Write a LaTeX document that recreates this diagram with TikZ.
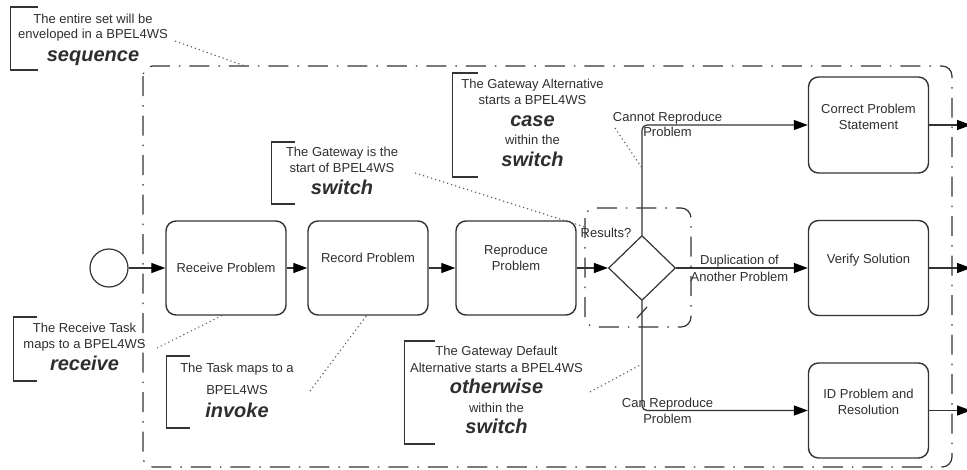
\documentclass[tikz,border=0pt]{standalone}
\usepackage{fontspec}
\setmainfont{Liberation Sans}
\usetikzlibrary{arrows.meta,shapes.geometric}
\definecolor{ink}{HTML}{333333}
\definecolor{txt}{HTML}{2E2E2E}
\definecolor{dotc}{HTML}{5A5A5A}
\begin{document}
\begin{tikzpicture}[x=1pt,y=-1pt,
  tl/.style={anchor=base, inner sep=0pt, text=txt, font=\fontsize{13}{16}\selectfont},
  kw/.style={anchor=base, inner sep=0pt, text=txt, font=\fontsize{20}{22}\selectfont\bfseries\itshape},
  task/.style={draw=ink, line width=1.4pt, rounded corners=10pt, minimum width=120pt, minimum height=94pt, inner sep=0pt},
  flow/.style={draw=ink, line width=1.3pt, -{Triangle[length=14pt,width=10pt,color=black]}},
  grp/.style={draw=ink, line width=1.2pt, rounded corners=10pt, dash pattern=on 20pt off 9pt on 1.5pt off 9pt},
  lead/.style={draw=dotc, line width=1.1pt, dash pattern=on 1.2pt off 3pt},
  brk/.style={draw=ink, line width=1.3pt}]
\useasboundingbox (0,0) rectangle (967,469);

% groups
\draw[grp] (143,66) rectangle (952,467);
\draw[grp] (585,208) rectangle (691,327);

% start event
\node[circle, draw=ink, line width=1.2pt, minimum size=38pt, inner sep=0pt] (start) at (109,268) {};

% tasks
\node[task] (rcv) at (226,268) {};
\node[task] (rec) at (368,268) {};
\node[task] (rep) at (516,268) {};
\node[task, minimum height=96pt] (cps) at (868.5,125) {};
\node[task, minimum height=95pt] (ver) at (868.5,268) {};
\node[task, minimum height=95pt] (idr) at (868.5,410.5) {};

\node[tl] (rcvt) at (226,272) {Receive Problem};
\node[tl] (rect) at (368,262) {Record Problem};
\node[tl] (rept1) at (516,254) {Reproduce};
\node[tl] (rept2) at (516,270) {Problem};
\node[tl] (cpst1) at (868.5,113) {Correct Problem};
\node[tl] (cpst2) at (868.5,129) {Statement};
\node[tl] (vert) at (868.5,263) {Verify Solution};
\node[tl] (idrt1) at (868.5,398) {ID Problem and};
\node[tl] (idrt2) at (868.5,414) {Resolution};

% gateway
\node[diamond, draw=ink, line width=1.2pt, minimum width=67pt, minimum height=65pt, inner sep=0pt] (gw) at (642,268) {};
\node[tl] (gwt) at (606,237) {Results?};

% flows
\draw[flow] (start) -- (rcv);
\draw[flow] (rcv) -- (rec);
\draw[flow] (rec) -- (rep);
\draw[flow] (rep) -- (gw);
\draw[flow, rounded corners=5pt] (gw.north) |- (cps);
\draw[flow] (gw) -- (ver);
\draw[flow, rounded corners=5pt] (gw.south) |- (idr);
\coordinate (o1) at (971,125);
\coordinate (o2) at (971,268);
\coordinate (o3) at (971,410.5);
\draw[flow] (cps) -- (o1);
\draw[flow] (ver) -- (o2);
\draw[flow] (idr) -- (o3);
% default marker
\draw[draw=ink, line width=1.2pt] (637,318) -- (647,307);

% flow labels
\node[tl] (l1a) at (667.5,121) {Cannot Reproduce};
\node[tl] (l1b) at (667.5,136) {Problem};
\node[tl] (l2a) at (739.5,264) {Duplication of};
\node[tl] (l2b) at (739.5,281) {Another Problem};
\node[tl] (l3a) at (667.5,407) {Can Reproduce};
\node[tl] (l3b) at (667.5,423) {Problem};

% annotation 1: sequence
\draw[brk] (38,7) -- (10.5,7) -- (10.5,70) -- (38,70);
\node[tl] (a1a) at (93,23) {The entire set will be};
\node[tl] (a1b) at (93,38) {enveloped in a BPEL4WS};
\node[kw] (a1c) at (93,61) {sequence};
\draw[lead] (175,41) -- (245,66);

% annotation 2: receive
\draw[brk] (37,317) -- (13.5,317) -- (13.5,381) -- (37,381);
\node[tl] (a2a) at (84.5,332) {The Receive Task};
\node[tl] (a2b) at (84.5,348) {maps to a BPEL4WS};
\node[kw] (a2c) at (84.5,370) {receive};
\draw[lead] (157,348) -- (223,315);

% annotation 3: invoke
\draw[brk] (190,356) -- (166.5,356) -- (166.5,428) -- (190,428);
\node[tl] (a3a) at (237,372) {The Task maps to a};
\node[tl] (a3b) at (237,394) {BPEL4WS};
\node[kw] (a3c) at (237,417) {invoke};
\draw[lead] (310,391) -- (367,315);

% annotation 4: switch
\draw[brk] (295,142) -- (271.5,142) -- (271.5,204) -- (295,204);
\node[tl] (a4a) at (342,156) {The Gateway is the};
\node[tl] (a4b) at (342,172) {start of BPEL4WS};
\node[kw] (a4c) at (342,194) {switch};
\draw[lead] (415,173) -- (585,227);

% annotation 5: case
\draw[brk] (478,73) -- (452.5,73) -- (452.5,177) -- (478,177);
\node[tl] (a5a) at (532.5,88) {The Gateway Alternative};
\node[tl] (a5b) at (532.5,104) {starts a BPEL4WS};
\node[kw] (a5c) at (532.5,126) {case};
\node[tl] (a5d) at (532.5,144) {within the};
\node[kw] (a5e) at (532.5,166) {switch};
\draw[lead] (615,128) -- (642,168);

% annotation 6: otherwise
\draw[brk] (435,341) -- (404.5,341) -- (404.5,444) -- (435,444);
\node[tl] (a6a) at (496.5,355) {The Gateway Default};
\node[tl] (a6b) at (496.5,372) {Alternative starts a BPEL4WS};
\node[kw] (a6c) at (496.5,393) {otherwise};
\node[tl] (a6d) at (496.5,412) {within the};
\node[kw] (a6e) at (496.5,433) {switch};
\draw[lead] (590,392) -- (642,364);
\end{tikzpicture}
\end{document}
